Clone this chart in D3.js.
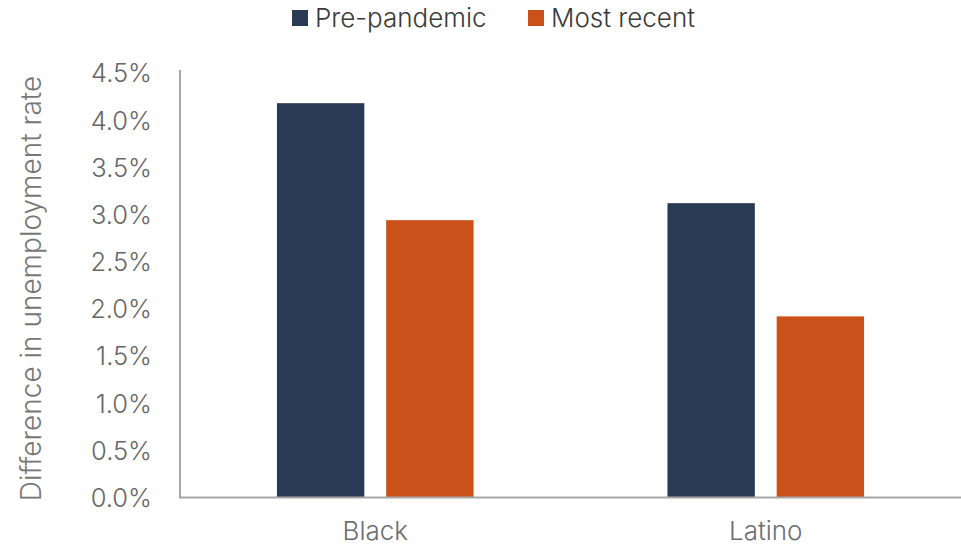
<!DOCTYPE html>
<html><head><meta charset="utf-8">
<script src="https://cdn.jsdelivr.net/npm/d3@7"></script>
<style>body{margin:0;background:#fff}</style>
</head><body>
<svg id="c" width="961" height="546"></svg>
<script>
const categories = ["Black", "Latino"];
const seriesNames = ["Pre-pandemic", "Most recent"];
const prePandemic = [4.18, 3.12];
const mostRecent = [2.94, 1.92];
const yTicks = [0, 0.5, 1.0, 1.5, 2.0, 2.5, 3.0, 3.5, 4.0, 4.5];
const colors = ["#293a55", "#cb511b"];

(function () {
const data = categories.map((c, i) => ({cat: c, values: [prePandemic[i], mostRecent[i]]}));

const svg = d3.select("#c");
const font = "Inter, 'Liberation Sans', Arial, sans-serif";
const weight = 350;
const mLeft = 180, mRight = 961, mTop = 73, mBottom = 497.5;

const x = d3.scaleBand().domain(categories).range([mLeft, mRight]).padding(0);
const xs = d3.scaleBand().domain(seriesNames).range([x.bandwidth()/2 - 98.3, x.bandwidth()/2 + 98.3]).paddingInner(0.2).paddingOuter(0);
const y = d3.scaleLinear().domain([0, 4.5]).range([mBottom, mTop]);

// bars
const grp = svg.append("g").selectAll("g.cat").data(data).join("g").attr("class", "cat").attr("transform", d => `translate(${x(d.cat)},0)`);
grp.selectAll("rect").data(d => d.values.map((v, j) => ({s: seriesNames[j], v, j})))
  .join("rect")
  .attr("x", d => xs(d.s)).attr("width", xs.bandwidth())
  .attr("y", d => y(d.v)).attr("height", d => y(0) - y(d.v))
  .attr("fill", d => colors[d.j]);

// y axis
const yAxis = d3.axisLeft(y).tickValues(yTicks).tickFormat(d => d3.format(".1f")(d) + "%").tickSize(0).tickPadding(28);
const ya = svg.append("g").attr("transform", `translate(${mLeft},0)`).call(yAxis);
ya.select(".domain").remove();
ya.selectAll("text").style("font-family", font).style("font-weight", weight).style("font-size", "25.5px").attr("fill", "#666").attr("dy", "0.35em");
svg.append("line").attr("x1", mLeft).attr("x2", mLeft).attr("y1", 70).attr("y2", mBottom).attr("stroke", "#a6a6a6").attr("stroke-width", 2);

// x axis
const xAxis = d3.axisBottom(x).tickSize(0).tickPadding(0);
const xa = svg.append("g").attr("transform", `translate(0,${mBottom})`).call(xAxis);
xa.select(".domain").remove();
xa.selectAll("text").style("font-family", font).style("font-weight", weight).style("font-size", "26px").attr("fill", "#6b6e72").attr("dy", null).attr("y", 42.5);
svg.append("line").attr("x1", mLeft - 1).attr("x2", mRight).attr("y1", mBottom).attr("y2", mBottom).attr("stroke", "#a6a6a6").attr("stroke-width", 2);

// y title
svg.append("text").attr("transform", `translate(41,288.5) rotate(-90)`).attr("text-anchor", "middle")
  .style("font-family", font).style("font-weight", weight).style("font-size", "28px").attr("fill", "#777").text("Difference in unemployment rate");

// legend
const legX = [292, 528];
const leg = svg.append("g").selectAll("g").data(seriesNames).join("g").attr("transform", (d, i) => `translate(${legX[i]},10)`);
leg.append("rect").attr("width", 16).attr("height", 16).attr("fill", (d, i) => colors[i]);
leg.append("text").attr("x", 23).attr("y", 17).style("font-family", font).style("font-weight", weight).style("font-size", "26px").attr("fill", "#3a3a3a").text(d => d);
})();
</script>
</body></html>
